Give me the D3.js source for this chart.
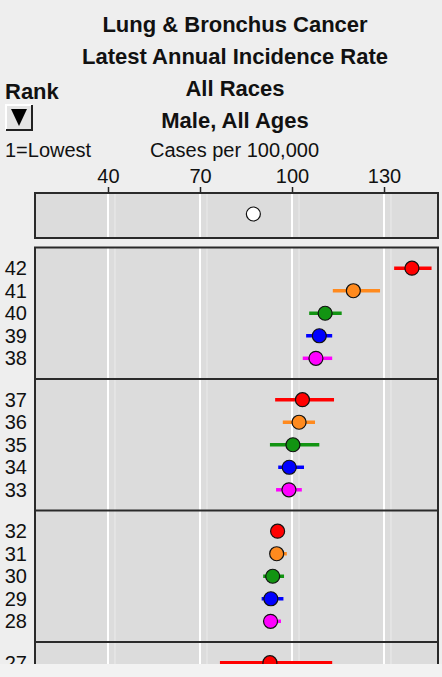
<!DOCTYPE html>
<html><head><meta charset="utf-8">
<script src="https://cdn.jsdelivr.net/npm/d3@7/dist/d3.min.js"></script>
<style>
html,body{margin:0;padding:0;background:#eeeeee;}
svg{display:block;font-family:"Liberation Sans",Arial,sans-serif;}
</style></head>
<body>
<svg id="chart" width="442" height="677"></svg>
<script>
// ---- data ----
const titleLines = ["Lung & Bronchus Cancer", "Latest Annual Incidence Rate", "All Races", "Male, All Ages"];
const tickValues = [40, 70, 100, 130];
const ranks = [42, 41, 40, 39, 38, 37, 36, 35, 34, 33, 32, 31, 30, 29, 28, 27];
const rates = [139.1, 120.0, 110.8, 108.9, 107.8, 103.4, 102.3, 100.3, 99.1, 99.0, 95.3, 95.0, 93.7, 93.1, 93.0, 92.8];
const lowerCI = [133.3, 113.3, 105.6, 104.6, 103.5, 94.5, 97.0, 92.8, 95.5, 94.8, 94.6, 93.8, 90.6, 90.1, 91.2, 76.5];
const upperCI = [145.5, 128.7, 116.2, 113.1, 113.1, 113.7, 107.5, 108.9, 103.9, 103.2, 96.0, 98.3, 97.4, 97.2, 96.4, 113.1];
const usRate = 87.4;
const groupColors = ["#ff0000", "#ff8a1e", "#129412", "#0000ff", "#ff00ff"];

// ---- layout ----
const svg = d3.select("#chart");
const W = 442, H = 677;
const plotL = 35, plotR = 438;
const x = d3.scaleLinear().domain([16.2, 147.6]).range([plotL, plotR]);

const topBox = {y0: 193, y1: 238};
const panelTop = 247.5, groupH = 131.5, clipBottom = 664;
const nGroups = 4;
const groupScale = d3.scaleBand().domain(d3.range(nGroups)).range([panelTop, panelTop + nGroups * groupH]).padding(0);
const inGroup = d3.scalePoint().domain(d3.range(5)).range([0, groupH]).padding(0.92);

const data = ranks.map((r, i) => ({
  rank: r, rate: rates[i], lo: lowerCI[i], hi: upperCI[i],
  g: Math.floor(i / 5), k: i % 5
}));
const yOf = d => groupScale(d.g) + inGroup(d.k);

// ---- titles ----
svg.append("g").selectAll("text").data(titleLines).join("text")
  .attr("x", 235).attr("y", (d, i) => 32 + i * 32)
  .attr("text-anchor", "middle").attr("font-size", 22).attr("font-weight", "bold")
  .attr("fill", "#111").text(d => d);

svg.append("text").attr("x", 5).attr("y", 99).attr("font-size", 22).attr("font-weight", "bold")
  .attr("fill", "#111").text("Rank");

// sort button
const btn = svg.append("g").attr("transform", "translate(6,105)");
btn.append("rect").attr("width", 26).attr("height", 25).attr("fill", "#e4e4e4");
btn.append("path").attr("d", "M0,25 V0 H26").attr("fill", "none").attr("stroke", "#ffffff").attr("stroke-width", 2);
btn.append("path").attr("d", "M26,0 V25 H0").attr("fill", "none").attr("stroke", "#222").attr("stroke-width", 2);
btn.append("path").attr("d", "M5,4 L21,4 L13,21 Z").attr("fill", "#000");

svg.append("text").attr("x", 5).attr("y", 157).attr("font-size", 20).attr("fill", "#111").text("1=Lowest");
svg.append("text").attr("x", 150).attr("y", 157).attr("font-size", 20).attr("fill", "#111").text("Cases per 100,000");

// ---- axis ----
const axis = d3.axisTop(x).tickValues(tickValues).tickSize(6).tickPadding(4);
const ax = svg.append("g").attr("transform", `translate(0,${topBox.y0})`).call(axis);
ax.select(".domain").remove();
ax.selectAll(".tick line").attr("stroke", "#222").attr("stroke-width", 1.5);
ax.selectAll(".tick text").attr("font-size", 20).attr("fill", "#111")
  .attr("font-family", "Liberation Sans, Arial, sans-serif").attr("y", -10);

// clip
svg.append("defs").append("clipPath").attr("id", "clip")
  .append("rect").attr("x", 0).attr("y", 0).attr("width", W).attr("height", clipBottom);

function drawGrid(g, y0, y1) {
  g.selectAll(".gl").data(tickValues).join("line").attr("class", "gl")
    .attr("x1", d => x(d)).attr("x2", d => x(d)).attr("y1", y0).attr("y2", y1)
    .attr("stroke", "#ffffff").attr("stroke-width", 2);
  g.selectAll(".gs").data(tickValues).join("line").attr("class", "gs")
    .attr("x1", d => x(d) + 7).attr("x2", d => x(d) + 7).attr("y1", y0).attr("y2", y1)
    .attr("stroke", "#e6e6e6").attr("stroke-width", 1.5);
}

// ---- top (US) box ----
const tb = svg.append("g");
tb.append("rect").attr("x", plotL).attr("y", topBox.y0).attr("width", plotR - plotL).attr("height", topBox.y1 - topBox.y0)
  .attr("fill", "#dcdcdc");
drawGrid(tb, topBox.y0, topBox.y1);
tb.append("rect").attr("x", plotL).attr("y", topBox.y0).attr("width", plotR - plotL).attr("height", topBox.y1 - topBox.y0)
  .attr("fill", "none").attr("stroke", "#2a2a2a").attr("stroke-width", 2);
tb.append("circle").attr("cx", x(usRate)).attr("cy", (topBox.y0 + topBox.y1) / 2 - 1.5).attr("r", 7)
  .attr("fill", "#ffffff").attr("stroke", "#111").attr("stroke-width", 1.2);

// ---- main panels ----
const mp = svg.append("g").attr("clip-path", "url(#clip)");
const panelBottom = panelTop + nGroups * groupH;
mp.append("rect").attr("x", plotL).attr("y", panelTop).attr("width", plotR - plotL).attr("height", panelBottom - panelTop)
  .attr("fill", "#dcdcdc");
drawGrid(mp, panelTop, panelBottom);
mp.append("rect").attr("x", plotL).attr("y", panelTop).attr("width", plotR - plotL).attr("height", panelBottom - panelTop)
  .attr("fill", "none").attr("stroke", "#2a2a2a").attr("stroke-width", 2);
mp.selectAll(".sep").data(d3.range(1, nGroups)).join("line").attr("class", "sep")
  .attr("x1", plotL).attr("x2", plotR).attr("y1", d => groupScale(d)).attr("y2", d => groupScale(d))
  .attr("stroke", "#2a2a2a").attr("stroke-width", 2);

mp.selectAll(".ci").data(data).join("line").attr("class", "ci")
  .attr("x1", d => x(d.lo)).attr("x2", d => x(d.hi)).attr("y1", yOf).attr("y2", yOf)
  .attr("stroke", d => groupColors[d.k]).attr("stroke-width", 3.5);
mp.selectAll(".pt").data(data).join("circle").attr("class", "pt")
  .attr("cx", d => x(d.rate)).attr("cy", yOf).attr("r", 7)
  .attr("fill", d => groupColors[d.k]).attr("stroke", "#111").attr("stroke-width", 1.2);

// rank labels
svg.append("g").attr("clip-path", "url(#clip)").selectAll("text").data(data).join("text")
  .attr("x", 27).attr("y", d => yOf(d)).attr("dy", "0.36em").attr("text-anchor", "end")
  .attr("font-size", 20).attr("fill", "#111").text(d => d.rank);

// bottom strip
svg.append("rect").attr("x", 0).attr("y", clipBottom).attr("width", W).attr("height", H - clipBottom).attr("fill", "#f2f2f2");
</script>
</body></html>
